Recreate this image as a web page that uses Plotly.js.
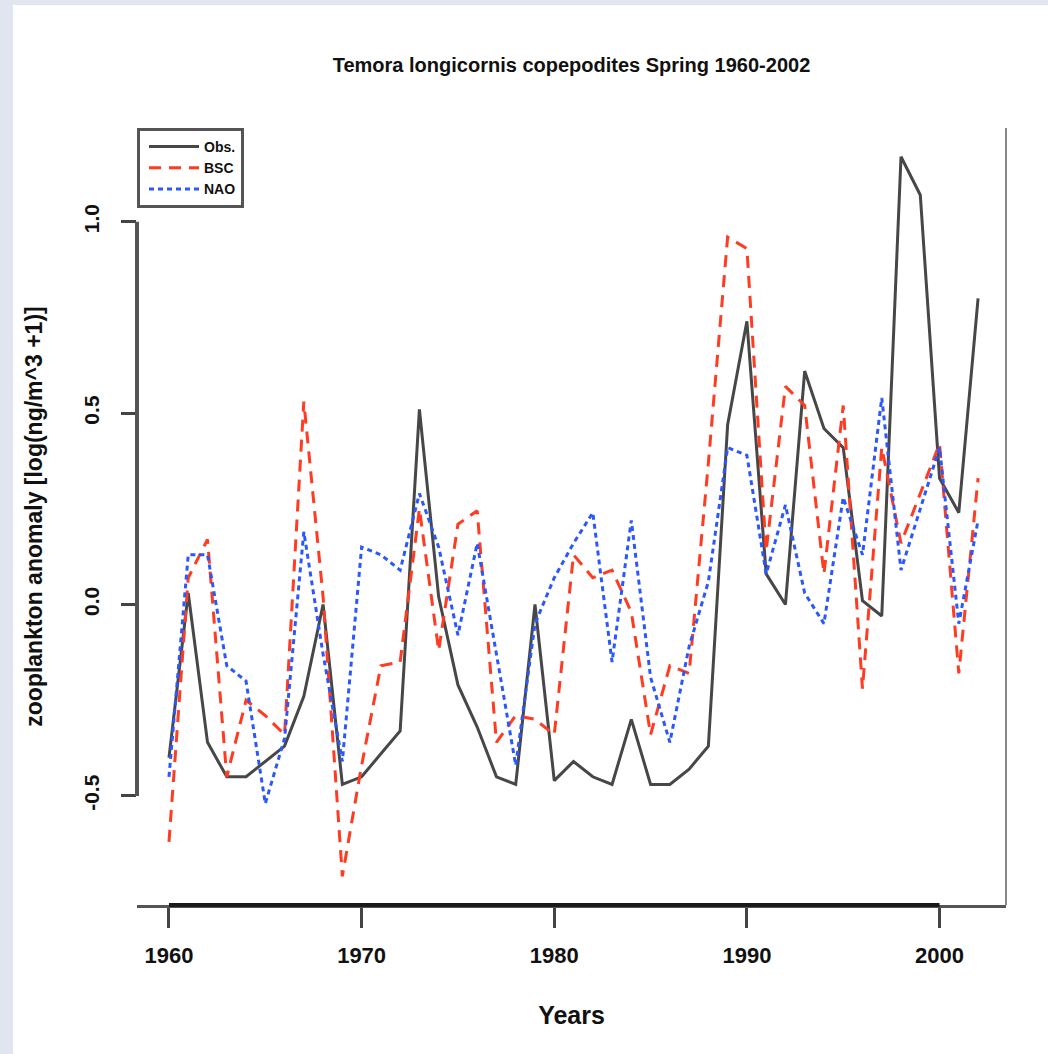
<!DOCTYPE html>
<html>
<head>
<meta charset="utf-8">
<script src="https://cdn.plot.ly/plotly-3.0.1.min.js"></script>
<style>
  html, body { margin: 0; padding: 0; background: #e1e5ef; width: 1048px; height: 1054px; overflow: hidden; }
  #chart { position: absolute; left: 13px; top: 5px; width: 1035px; height: 1049px; background: #ffffff; }
</style>
</head>
<body>
<div id="chart"></div>
<script>
// ---- data ----
const years = [1960,1961,1962,1963,1964,1965,1966,1967,1968,1969,
               1970,1971,1972,1973,1974,1975,1976,1977,1978,1979,
               1980,1981,1982,1983,1984,1985,1986,1987,1988,1989,
               1990,1991,1992,1993,1994,1995,1996,1997,1998,1999,
               2000,2001,2002];

const obs = [-0.40, 0.03, -0.36, -0.45, -0.45, -0.41, -0.37, -0.24, 0.00, -0.47,
             -0.45, -0.39, -0.33, 0.51, 0.02, -0.21, -0.32, -0.45, -0.47, 0.00,
             -0.46, -0.41, -0.45, -0.47, -0.30, -0.47, -0.47, -0.43, -0.37, 0.47,
              0.74, 0.08, 0.00, 0.61, 0.46, 0.41, 0.01, -0.03, 1.17, 1.07,
              0.33, 0.24, 0.80];

const bsc = [-0.62, 0.07, 0.17, -0.45, -0.25, -0.29, -0.34, 0.53, 0.02, -0.71,
             -0.42, -0.16, -0.15, 0.25, -0.12, 0.21, 0.245, -0.36, -0.29, -0.30,
             -0.34, 0.13, 0.07, 0.09, -0.02, -0.34, -0.16, -0.18, 0.37, 0.96,
              0.93, 0.14, 0.57, 0.52, 0.08, 0.52, -0.22, 0.41, 0.16, 0.29,
              0.42, -0.18, 0.33];

const nao = [-0.45, 0.13, 0.13, -0.16, -0.20, -0.52, -0.35, 0.19, -0.13, -0.41,
              0.15, 0.13, 0.09, 0.29, 0.15, -0.08, 0.16, -0.13, -0.42, -0.05,
              0.07, 0.16, 0.24, -0.15, 0.22, -0.19, -0.36, -0.11, 0.06, 0.41,
              0.39, 0.08, 0.26, 0.03, -0.05, 0.28, 0.13, 0.54, 0.09, 0.25,
              0.41, -0.05, 0.22];

const seriesNames = ["Obs.", "BSC", "NAO"];
const xTicks = [1960, 1970, 1980, 1990, 2000];
const yTicks = [-0.5, 0.0, 0.5, 1.0];
const yTickText = ["-0.5", "0.0", "0.5", "1.0"];

const titleText = "Temora longicornis copepodites Spring 1960-2002";
const xTitle = "Years";
const yTitle = "zooplankton anomaly [log(ng/m^3 +1)]";

// ---- styling ----
const FONT = "Liberation Sans, Arial, sans-serif";

const traces = [
  { x: years, y: obs, name: seriesNames[0], type: "scatter", mode: "lines",
    line: { color: "#474747", width: 3 } },
  { x: years, y: bsc, name: seriesNames[1], type: "scatter", mode: "lines",
    line: { color: "#ff3b22", width: 3, dash: "12px,8px" } },
  { x: years, y: nao, name: seriesNames[2], type: "scatter", mode: "lines",
    line: { color: "#2b57ff", width: 3, dash: "5px,4px" } }
];

const layout = {
  width: 1035, height: 1049,
  margin: { l: 124, r: 42, t: 123, b: 149 },
  paper_bgcolor: "#ffffff", plot_bgcolor: "#ffffff",
  font: { family: FONT, color: "#111", weight: "bold" },
  title: { text: "<b>" + titleText + "</b>", font: { family: FONT, size: 20, color: "#111" },
           x: 0.5, xref: "paper", xanchor: "center", y: 1, yref: "container", yanchor: "top", pad: { t: 53 } },
  showlegend: true,
  legend: { x: 0, y: 1, xanchor: "left", yanchor: "top", bgcolor: "#ffffff",
            bordercolor: "#555", borderwidth: 3, font: { family: FONT, size: 14, color: "#111", weight: "bold" },
            tracegroupgap: 0, itemwidth: 50, indentation: 4 },
  xaxis: {
    range: [1958.34, 2003.45], tickvals: xTicks, ticktext: xTicks.map(String),
    ticks: "outside", ticklen: 20, tickwidth: 3, tickcolor: "#444",
    showline: true, linecolor: "#555", linewidth: 3, mirror: false,
    showgrid: false, zeroline: false, automargin: false,
    tickfont: { family: FONT, size: 22, color: "#111", weight: "bold" },
    ticklabelstandoff: 9,
    title: { text: "<b>" + xTitle + "</b>", font: { family: FONT, size: 25, color: "#111" }, standoff: 40 }
  },
  yaxis: {
    range: [-0.785, 1.245], tickvals: yTicks, ticktext: yTickText,
    ticks: "outside", ticklen: 15, tickwidth: 3, tickcolor: "#444",
    showline: false, showgrid: false, zeroline: false, automargin: false,
    tickangle: -90,
    tickfont: { family: FONT, size: 21, color: "#111", weight: "bold" },
    ticklabelstandoff: 14,
    title: { text: "<b>" + yTitle + "</b>", font: { family: FONT, size: 23, color: "#111" }, standoff: 30 }
  },
  shapes: [
    // dark x-axis segment between first and last tick
    { type: "line", xref: "x", yref: "paper", x0: xTicks[0], x1: xTicks[xTicks.length - 1], y0: 0, y1: 0,
      line: { color: "#1a1a1a", width: 4 } },
    // y-axis line between first and last tick
    { type: "line", xref: "paper", yref: "y", x0: 0, x1: 0, y0: yTicks[0], y1: yTicks[yTicks.length - 1],
      line: { color: "#555", width: 4 } },
    // right frame line
    { type: "line", xref: "paper", yref: "paper", x0: 1, x1: 1, y0: 0, y1: 1,
      line: { color: "#888", width: 2 } }
  ]
};

Plotly.newPlot("chart", traces, layout, { staticPlot: true, displayModeBar: false });
</script>
</body>
</html>
